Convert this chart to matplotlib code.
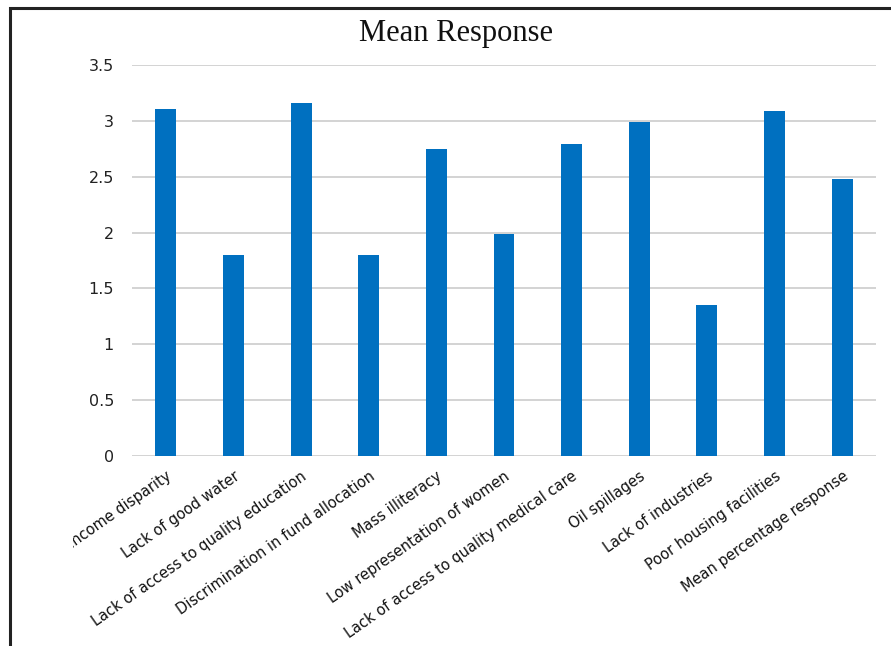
import matplotlib
matplotlib.use("Agg")
import matplotlib.pyplot as plt
from matplotlib.patches import Rectangle
from matplotlib.transforms import Bbox

# data
categories = ["Income disparity", "Lack of good water", "Lack of access to quality education",
              "Discrimination in fund allocation", "Mass illiteracy", "Low representation of women",
              "Lack of access to quality medical care", "Oil spillages", "Lack of industries",
              "Poor housing facilities", "Mean percentage response"]
mean_resp = [3.11, 1.80, 3.16, 1.80, 2.75, 1.99, 2.79, 2.99, 1.35, 3.09, 2.48]
yticks = [0, 0.5, 1, 1.5, 2, 2.5, 3, 3.5]
ytick_labels = ["0", "0.5", "1", "1.5", "2", "2.5", "3", "3.5"]

W, H = 891, 646
fig = plt.figure(figsize=(W / 100, H / 100), dpi=100)
ax = fig.add_axes([132 / W, 1 - 456 / H, (876 - 132) / W, (456 - 65) / H])

x = range(len(categories))
ax.bar(x, mean_resp, width=0.31, color="#0070C0", zorder=3)

ax.set_xlim(-0.5, len(categories) - 0.5)
ax.set_ylim(0, 3.5)
ax.set_yticks(yticks)
ax.set_yticklabels(ytick_labels, fontsize=11.5, color="#222222")
ax.set_xticks(list(x))
ax.set_xticklabels(categories, rotation=35, ha="right", va="top",
                   rotation_mode="anchor", fontsize=10.5, color="#111111")
ax.tick_params(axis="both", length=0)
ax.tick_params(axis="y", pad=13)
ax.tick_params(axis="x", pad=9)
ax.grid(axis="y", color="#d0d0d0", linewidth=1.3, zorder=0)
for s in ax.spines.values():
    s.set_visible(False)

fig.text(456 / W, 1 - 33 / H, "Mean Response", ha="center", va="center",
         fontsize=22, family="Liberation Serif", color="#111111")

# outer frame (right and bottom edges fall outside the picture)
fig.add_artist(Rectangle((10 / W, -0.1), 1.2, 1.1 - 8 / H, transform=fig.transFigure,
                         fill=False, edgecolor="#222222", linewidth=2.2))

# first label is cut at the left edge of the chart area
fig.canvas.draw()
lbl = ax.get_xticklabels()[0]
lbl.set_clip_box(Bbox.from_extents(73, 0, W, H))
lbl.set_clip_on(True)

fig.savefig("out.png", dpi=100)
